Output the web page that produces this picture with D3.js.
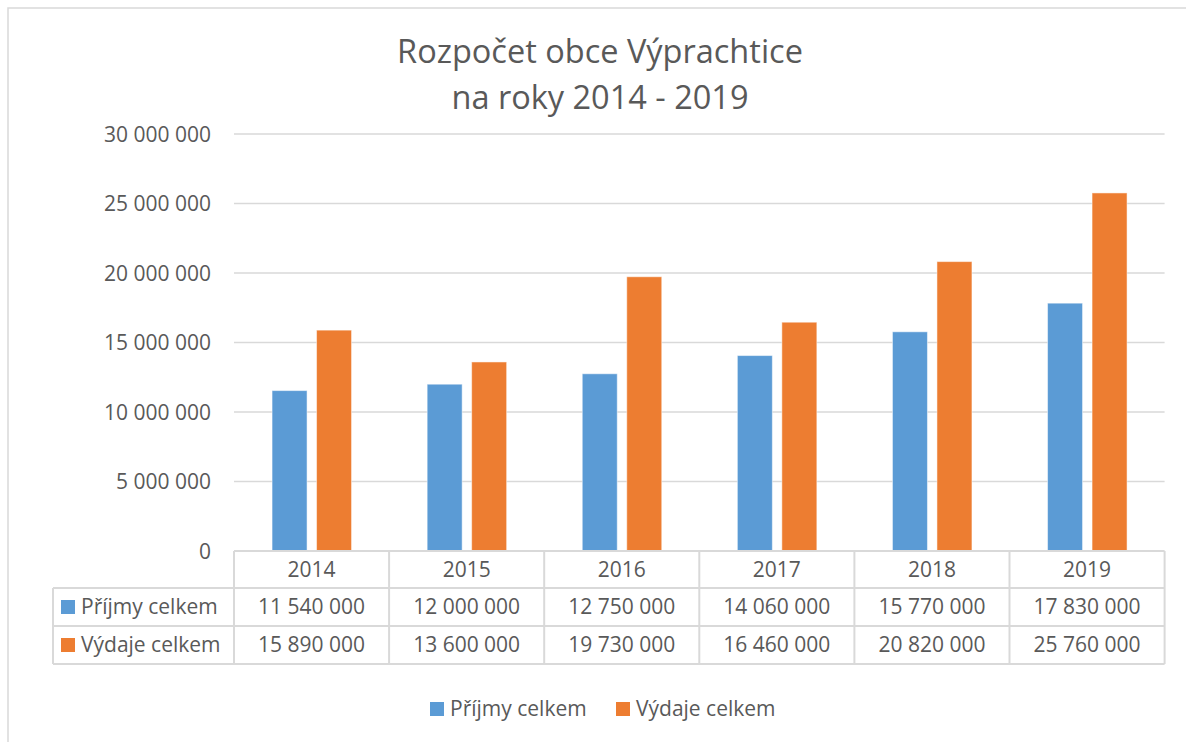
<!DOCTYPE html>
<html>
<head>
<meta charset="utf-8">
<script src="https://cdn.jsdelivr.net/npm/d3@7"></script>
<style>
  body { margin: 0; background: #fff; }
  svg text { font-family: "Open Sans", "Noto Sans", sans-serif; fill: #595959; }
</style>
</head>
<body>
<svg id="chart" width="1186" height="742"></svg>
<script>
// chart data
var years = ["2014", "2015", "2016", "2017", "2018", "2019"];
var seriesNames = ["Příjmy celkem", "Výdaje celkem"];
var prijmy = [11540000, 12000000, 12750000, 14060000, 15770000, 17830000];
var vydaje = [15890000, 13600000, 19730000, 16460000, 20820000, 25760000];
var yTicks = [0, 5000000, 10000000, 15000000, 20000000, 25000000, 30000000];
var colors = ["#5B9BD5", "#ED7D31"];
var titleLines = ["Rozpočet obce Výprachtice", "na roky 2014 - 2019"];

var svg = d3.select("#chart");
var grid = "#d9d9d9";
var fs = "21px";

// number format with space as thousands separator
var fmt = d3.formatLocale({ decimal: ",", thousands: " ", grouping: [3], currency: ["", ""] }).format(",d");

var plotLeft = 234, plotRight = 1164.6, plotTop = 134, plotBottom = 551;

// outer chart border (cropped on the right and bottom)
svg.append("rect")
    .attr("x", 8).attr("y", 8)
    .attr("width", 1200).attr("height", 800)
    .attr("fill", "none")
    .attr("stroke", grid)
    .attr("stroke-width", 1.5);

// title
svg.append("g").selectAll("text")
    .data(titleLines)
    .enter().append("text")
      .attr("x", 600)
      .attr("y", function(d, i) { return 63 + i * 46; })
      .attr("text-anchor", "middle")
      .style("font-size", "32.5px")
      .text(function(d) { return d; });

var x = d3.scaleBand().domain(years).range([plotLeft, plotRight]);
var y = d3.scaleLinear().domain([0, 30000000]).range([plotBottom, plotTop]);

// gridlines
svg.append("g").selectAll("line")
    .data(yTicks.slice(1))
    .enter().append("line")
      .attr("x1", plotLeft).attr("x2", plotRight)
      .attr("y1", function(d) { return y(d); })
      .attr("y2", function(d) { return y(d); })
      .attr("stroke", grid)
      .attr("stroke-width", 1.5);

// y axis labels
var yAxis = svg.append("g")
    .attr("transform", "translate(" + (plotLeft - 10) + ",0)")
    .call(d3.axisLeft(y).tickValues(yTicks).tickFormat(fmt).tickSize(0).tickPadding(13));
yAxis.select(".domain").remove();
yAxis.selectAll("text")
    .style("font-size", fs)
    .style("font-family", null)
    .attr("fill", null)
    .attr("dy", "0.35em");

// bars
var bw = 35;
var offsets = [-39.5, 5];
[prijmy, vydaje].forEach(function(vals, s) {
  svg.append("g").selectAll("rect")
      .data(vals)
      .enter().append("rect")
        .attr("x", function(d, i) { return x(years[i]) + x.bandwidth() / 2 + offsets[s]; })
        .attr("y", function(d) { return y(d); })
        .attr("width", bw)
        .attr("height", function(d) { return plotBottom - y(d); })
        .attr("fill", colors[s])
        .attr("stroke", "#fff")
        .attr("stroke-opacity", 0.5)
        .attr("stroke-width", 1);
});

// data table
var rowY = [551, 588, 626, 664];
var tableLeft = 53;
var t = svg.append("g").attr("stroke", grid).attr("stroke-width", 2);

// horizontal lines
t.append("line").attr("x1", plotLeft).attr("x2", plotRight).attr("y1", rowY[0]).attr("y2", rowY[0]);
rowY.slice(1).forEach(function(ry) {
  t.append("line").attr("x1", tableLeft).attr("x2", plotRight).attr("y1", ry).attr("y2", ry);
});
// vertical lines
years.forEach(function(yr) {
  t.append("line").attr("x1", x(yr)).attr("x2", x(yr)).attr("y1", rowY[0]).attr("y2", rowY[3]);
});
t.append("line").attr("x1", plotRight).attr("x2", plotRight).attr("y1", rowY[0]).attr("y2", rowY[3]);
t.append("line").attr("x1", tableLeft).attr("x2", tableLeft).attr("y1", rowY[1]).attr("y2", rowY[3]);

// year header
svg.append("g").selectAll("text")
    .data(years)
    .enter().append("text")
      .attr("x", function(d) { return x(d) + x.bandwidth() / 2; })
      .attr("y", (rowY[0] + rowY[1]) / 2)
      .attr("dy", "0.35em")
      .attr("text-anchor", "middle")
      .style("font-size", fs)
      .text(function(d) { return d; });

// value rows
[prijmy, vydaje].forEach(function(vals, s) {
  var cy = (rowY[s + 1] + rowY[s + 2]) / 2;
  svg.append("g").selectAll("text")
      .data(vals)
      .enter().append("text")
        .attr("x", function(d, i) { return x(years[i]) + x.bandwidth() / 2; })
        .attr("y", cy)
        .attr("dy", "0.35em")
        .attr("text-anchor", "middle")
        .style("font-size", fs)
        .text(function(d) { return fmt(d); });

  svg.append("rect")
      .attr("x", 61).attr("y", cy - 7)
      .attr("width", 14).attr("height", 14)
      .attr("fill", colors[s]);
  svg.append("text")
      .attr("x", 81).attr("y", cy)
      .attr("dy", "0.35em")
      .style("font-size", fs)
      .text(seriesNames[s]);
});

// legend
var legendX = [430, 616];
var legend = svg.append("g").selectAll("g")
    .data(seriesNames)
    .enter().append("g")
      .attr("transform", function(d, i) { return "translate(" + legendX[i] + ",709)"; });
legend.append("rect")
    .attr("x", 0).attr("y", -7)
    .attr("width", 14).attr("height", 14)
    .attr("fill", function(d, i) { return colors[i]; });
legend.append("text")
    .attr("x", 20)
    .attr("dy", "0.35em")
    .style("font-size", fs)
    .text(function(d) { return d; });
</script>
</body>
</html>
